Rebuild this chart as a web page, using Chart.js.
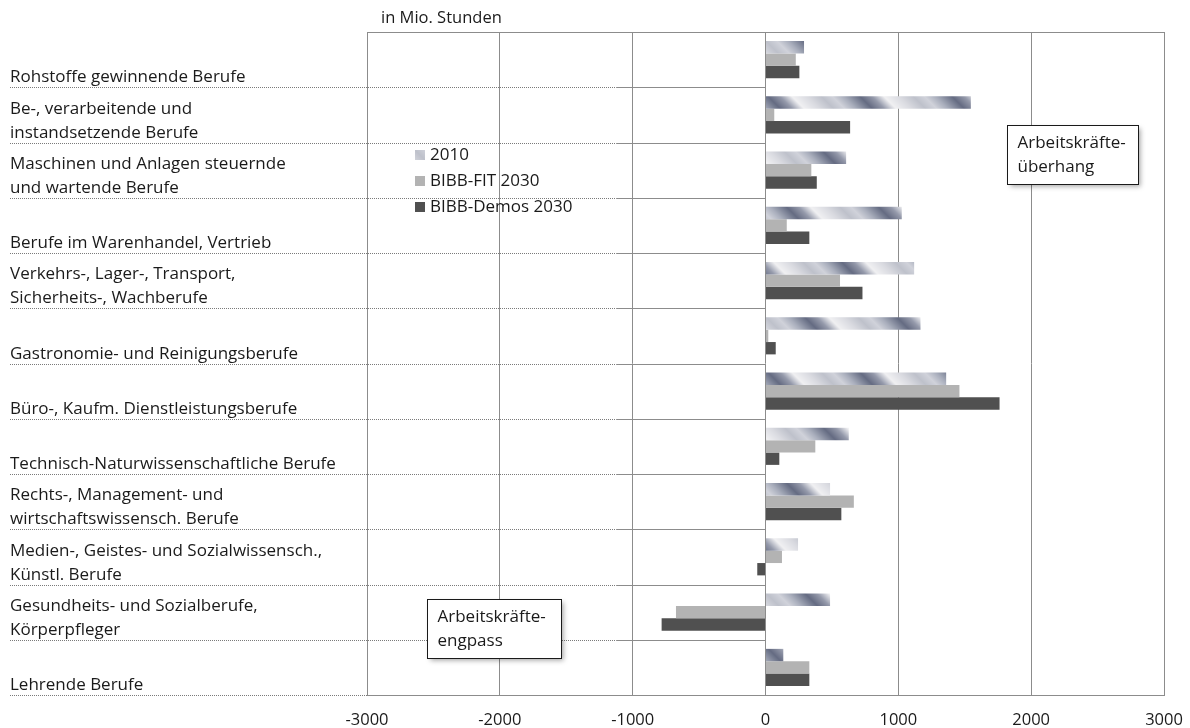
<!DOCTYPE html>
<html>
<head>
<meta charset="utf-8">
<script src="https://cdn.jsdelivr.net/npm/chart.js@4.4.0/dist/chart.umd.min.js"></script>
<style>
  html, body { margin: 0; padding: 0; background: #ffffff; }
  #wrap { width: 1190px; height: 728px; position: relative; }
</style>
</head>
<body>
<div id="wrap"><canvas id="chart" width="1190" height="728"></canvas></div>
<script>
// Occupational fields (multi-line labels)
const categories = [
  ['Rohstoffe gewinnende Berufe'],
  ['Be-, verarbeitende und', 'instandsetzende Berufe'],
  ['Maschinen und Anlagen steuernde', 'und wartende Berufe'],
  ['Berufe im Warenhandel, Vertrieb'],
  ['Verkehrs-, Lager-, Transport,', 'Sicherheits-, Wachberufe'],
  ['Gastronomie- und Reinigungsberufe'],
  ['Büro-, Kaufm. Dienstleistungsberufe'],
  ['Technisch-Naturwissenschaftliche Berufe'],
  ['Rechts-, Management- und', 'wirtschaftswissensch. Berufe'],
  ['Medien-, Geistes- und Sozialwissensch.,', 'Künstl. Berufe'],
  ['Gesundheits- und Sozialberufe,', 'Körperpfleger'],
  ['Lehrende Berufe']
];

const seriesNames = ['2010', 'BIBB-FIT 2030', 'BIBB-Demos 2030'];

// Balance of labour supply and demand, in million hours
const values2010  = [290, 1546, 607, 1026, 1119, 1167, 1360, 627, 486, 245, 486, 134];
const valuesFit   = [228,   66, 345,  160,  561,   21, 1460, 375, 665, 124, -674, 330];
const valuesDemos = [255,  637, 386,  330,  730,   77, 1762, 104, 571, -62, -782, 330];

const xTicks = [-3000, -2000, -1000, 0, 1000, 2000, 3000];

const unitLabel = 'in Mio. Stunden';
const noteSurplus = ['Arbeitskräfte-', 'überhang'];
const noteShortage = ['Arbeitskräfte-', 'engpass'];

const FONT = '"Open Sans", Lato, sans-serif';
const TEXT = '#1a1a1a';
const GRID = '#8c8c8c';

// Metallic diagonal-stripe fill for the 2010 bars
function metallicPattern() {
  const P = 92;
  const c = document.createElement('canvas');
  c.width = P; c.height = P;
  const g = c.getContext('2d');
  const img = g.createImageData(P, P);
  const stops = [
    [0.00, [208, 210, 218]],
    [0.12, [170, 175, 189]],
    [0.30, [100, 107, 130]],
    [0.43, [148, 153, 170]],
    [0.56, [240, 240, 242]],
    [0.72, [218, 219, 225]],
    [0.88, [190, 193, 203]],
    [1.00, [208, 210, 218]]
  ];
  function col(t) {
    for (let k = 1; k < stops.length; k++) {
      if (t <= stops[k][0]) {
        const a = stops[k - 1], b = stops[k];
        const f = (t - a[0]) / (b[0] - a[0]);
        return a[1].map((v, j) => Math.round(v + (b[1][j] - v) * f));
      }
    }
    return stops[stops.length - 1][1];
  }
  for (let y = 0; y < P; y++) {
    for (let x = 0; x < P; x++) {
      const t = (((x - y) % P) + P) % P / P;
      const cc = col(t);
      const i = (y * P + x) * 4;
      img.data[i] = cc[0]; img.data[i + 1] = cc[1]; img.data[i + 2] = cc[2]; img.data[i + 3] = 255;
    }
  }
  g.putImageData(img, 0, 0);
  return g.createPattern(c, 'repeat');
}

const ctx = document.getElementById('chart').getContext('2d');
const stripeFill = metallicPattern();

// Frame, category separators
const framePlugin = {
  id: 'frame',
  beforeDatasetsDraw(chart) {
    const { ctx, chartArea: a, scales: { x, y } } = chart;
    const x0 = x.getPixelForValue(0);
    const band = y.getPixelForValue(1) - y.getPixelForValue(0);
    ctx.save();
    ctx.lineWidth = 1;
    for (let i = 0; i < categories.length; i++) {
      const yb = Math.round(y.getPixelForValue(i) + band / 2) + 0.5;
      const last = i === categories.length - 1;
      const split = last ? a.left : x.getPixelForValue(-1120);
      ctx.strokeStyle = '#7a7a7a';
      ctx.setLineDash([1, 1]);
      ctx.beginPath();
      ctx.moveTo(10, yb);
      ctx.lineTo(split, yb);
      ctx.stroke();
      ctx.setLineDash([]);
      ctx.strokeStyle = GRID;
      ctx.beginPath();
      ctx.moveTo(split, yb);
      ctx.lineTo(x0, yb);
      ctx.stroke();
    }
    ctx.strokeStyle = GRID;
    ctx.strokeRect(Math.round(a.left) + 0.5, Math.round(a.top) + 0.5,
      Math.round(a.right - a.left), Math.round(a.bottom - a.top));
    ctx.restore();
  }
};

// Category labels, bottom-aligned within each band, and the unit caption
const labelPlugin = {
  id: 'occupationLabels',
  afterDraw(chart) {
    const { ctx, scales: { y } } = chart;
    const band = y.getPixelForValue(1) - y.getPixelForValue(0);
    ctx.save();
    ctx.font = '17px ' + FONT;
    ctx.fillStyle = TEXT;
    ctx.textAlign = 'left';
    ctx.textBaseline = 'alphabetic';
    categories.forEach((lines, i) => {
      const yb = y.getPixelForValue(i) + band / 2;
      lines.forEach((t, k) => {
        const base = yb - 5 - (lines.length - 1 - k) * 24;
        ctx.fillText(t, 10, base);
      });
    });
    ctx.font = '16.5px ' + FONT;
    ctx.textBaseline = 'middle';
    ctx.fillText(unitLabel, 381, 18);
    ctx.restore();
  }
};

// Legend placed inside the plot area
const legendPlugin = {
  id: 'insideLegend',
  afterDraw(chart) {
    const { ctx } = chart;
    ctx.save();
    ctx.font = '17px ' + FONT;
    ctx.textBaseline = 'middle';
    ctx.textAlign = 'left';
    chart.data.datasets.forEach((ds, i) => {
      const cy = 155 + i * 26;
      ctx.fillStyle = ds.backgroundColor;
      ctx.fillRect(415, cy - 5, 10, 10);
      ctx.fillStyle = TEXT;
      ctx.fillText(ds.label, 430, cy);
    });
    ctx.restore();
  }
};

// Explanatory notes anchored to the scales
const notes = [
  { lines: noteSurplus, xVal: 1820, yVal: 1.18, w: 131, h: 59 },
  { lines: noteShortage, xVal: -2545, yVal: 9.76, w: 134, h: 59 }
];
const notePlugin = {
  id: 'notes',
  afterDraw(chart) {
    const { ctx, scales: { x, y } } = chart;
    ctx.save();
    notes.forEach(n => {
      const left = Math.round(x.getPixelForValue(n.xVal)) + 0.5;
      const top = Math.round(y.getPixelForValue(n.yVal)) + 0.5;
      ctx.save();
      ctx.shadowColor = 'rgba(0,0,0,0.35)';
      ctx.shadowBlur = 5;
      ctx.shadowOffsetX = 2;
      ctx.shadowOffsetY = 2;
      ctx.fillStyle = '#ffffff';
      ctx.fillRect(left, top, n.w, n.h);
      ctx.restore();
      ctx.strokeStyle = '#1a1a1a';
      ctx.lineWidth = 1;
      ctx.strokeRect(left, top, n.w, n.h);
      ctx.font = '17px ' + FONT;
      ctx.fillStyle = TEXT;
      ctx.textBaseline = 'middle';
      ctx.textAlign = 'left';
      n.lines.forEach((t, k) => ctx.fillText(t, left + 10, top + 18 + k * 24));
    });
    ctx.restore();
  }
};

new Chart(ctx, {
  type: 'bar',
  data: {
    labels: categories.map(l => l.join(' ')),
    datasets: [
      { label: seriesNames[0], data: values2010, backgroundColor: stripeFill },
      { label: seriesNames[1], data: valuesFit, backgroundColor: '#b3b3b3' },
      { label: seriesNames[2], data: valuesDemos, backgroundColor: '#505050' }
    ]
  },
  options: {
    indexAxis: 'y',
    responsive: false,
    animation: false,
    events: [],
    layout: { padding: { left: 367, top: 32, right: 26, bottom: 0 } },
    datasets: { bar: { barPercentage: 1, categoryPercentage: 0.67, borderWidth: 0 } },
    plugins: { legend: { display: false }, tooltip: { enabled: false } },
    scales: {
      x: {
        min: -3000, max: 3000,
        afterBuildTicks(scale) { scale.ticks = xTicks.map(v => ({ value: v })); },
        afterFit(scale) { scale.height = 33; scale.paddingLeft = 0; scale.paddingRight = 0; },
        grid: { color: GRID, lineWidth: 1, drawTicks: false },
        border: { display: true, color: GRID },
        ticks: {
          color: TEXT, font: { family: FONT, size: 16.5 }, padding: 15, maxRotation: 0,
          callback: v => String(v)
        }
      },
      y: { display: false }
    }
  },
  plugins: [framePlugin, labelPlugin, legendPlugin, notePlugin]
});
</script>
</body>
</html>
